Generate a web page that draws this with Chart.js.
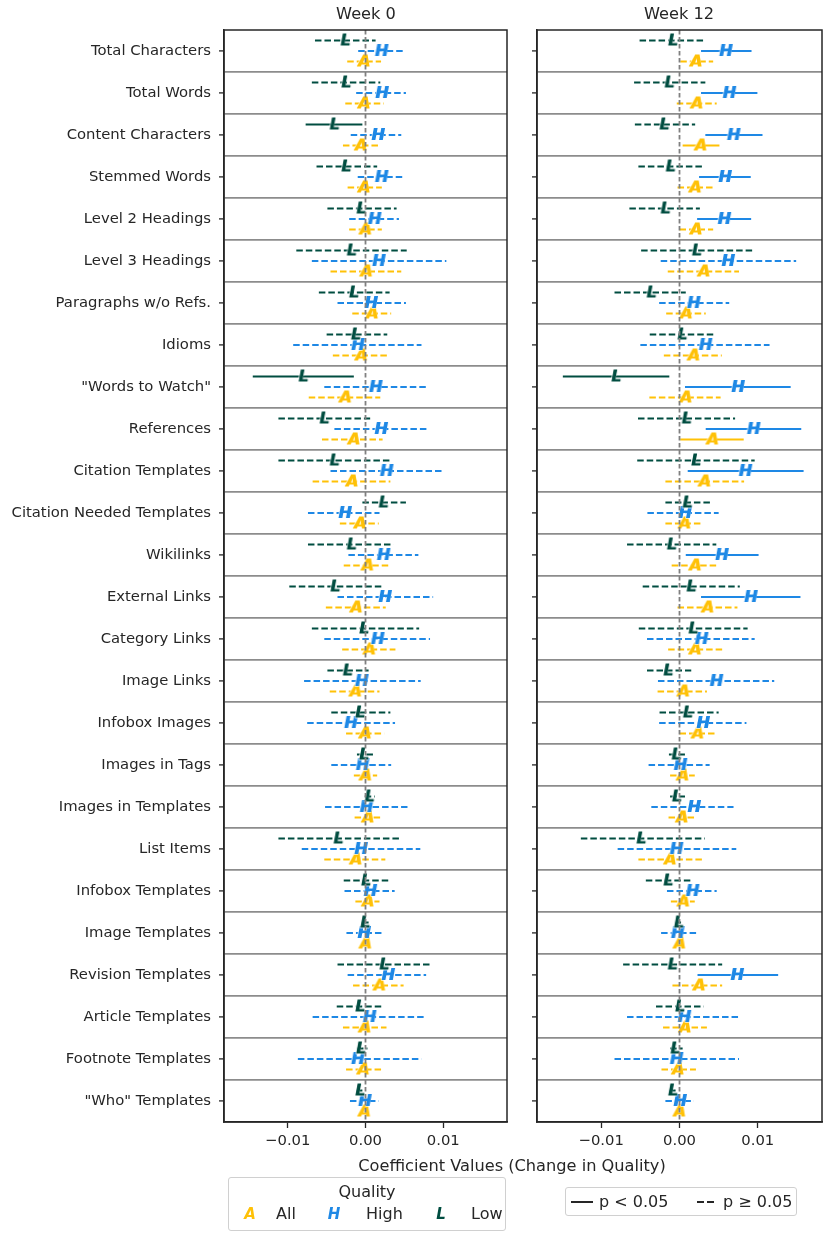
<!DOCTYPE html>
<html>
<head>
<meta charset="utf-8">
<script src="https://cdn.jsdelivr.net/npm/chart.js@4.4.0/dist/chart.umd.min.js"></script>
<style>
  body { margin: 0; background: #fff; width: 831px; height: 1237px; position: relative; overflow: hidden;
         font-family: 'DejaVu Sans', sans-serif; color: #262626; }
  canvas { position: absolute; top: 0; }
  .ttl { position: absolute; top: 4px; font-size: 16.2px; transform: translateX(-50%); white-space: nowrap; }
  .xlabel { position: absolute; top: 1156px; left: 512px; transform: translateX(-50%); font-size: 16.2px; white-space: nowrap; }
  .box { position: absolute; border: 1px solid #d0d0d0; border-radius: 3px; background: #fff; font-size: 16px; }
  .abs { position: absolute; white-space: nowrap; }
  .mk { position: absolute; font-weight: bold; font-style: italic; font-size: 15px; transform: translateX(-50%); }
</style>
</head>
<body>
<canvas id="week0" width="515" height="1160" style="left:0;width:515px;height:1160px"></canvas>
<canvas id="week12" width="316" height="1160" style="left:515px;width:316px;height:1160px"></canvas>
<div class="ttl" style="left:366px">Week 0</div>
<div class="ttl" style="left:679px">Week 12</div>
<div class="xlabel">Coefficient Values (Change in Quality)</div>

<div class="box" style="left:228px;top:1177px;width:276px;height:52px">
  <div class="abs" style="left:0;width:276px;text-align:center;top:4px">Quality</div>
  <span class="mk" style="left:21px;top:27px;color:#FFC107">A</span>
  <span class="abs" style="left:47px;top:26px">All</span>
  <span class="mk" style="left:105px;top:27px;color:#1E88E5">H</span>
  <span class="abs" style="left:137px;top:26px">High</span>
  <span class="mk" style="left:212px;top:27px;color:#004D40">L</span>
  <span class="abs" style="left:242px;top:26px">Low</span>
</div>

<div class="box" style="left:565px;top:1187px;width:230px;height:27px">
  <div class="abs" style="left:5px;top:13px;width:22px;height:2px;background:#262626"></div>
  <span class="abs" style="left:33px;top:4px">p &lt; 0.05</span>
  <div class="abs" style="left:131px;top:13px;width:7px;height:2px;background:#262626"></div>
  <div class="abs" style="left:141px;top:13px;width:7px;height:2px;background:#262626"></div>
  <span class="abs" style="left:157px;top:4px">p ≥ 0.05</span>
</div>

<script>
// Rows (top to bottom)
const features = ['Total Characters', 'Total Words', 'Content Characters', 'Stemmed Words',
  'Level 2 Headings', 'Level 3 Headings', 'Paragraphs w/o Refs.', 'Idioms', '"Words to Watch"',
  'References', 'Citation Templates', 'Citation Needed Templates', 'Wikilinks', 'External Links',
  'Category Links', 'Image Links', 'Infobox Images', 'Images in Tags', 'Images in Templates',
  'List Items', 'Infobox Templates', 'Image Templates', 'Revision Templates', 'Article Templates',
  'Footnote Templates', '"Who" Templates'];

const xTicks = [-0.01, 0, 0.01];
const xTickLabels = ['\u22120.01', '0.00', '0.01'];

// ---- Week 0 ----
const w0AllMean = [-0.0002, -0.0002, -0.0006, -0.0002, 0.0000, 0.0001, 0.00085, -0.00055, -0.0026, -0.0015, -0.00175, -0.0007, 0.00025, -0.0012, 0.0005, -0.0013, -0.00005, 0.0000, 0.0003, -0.00125, 0.0003, 0.0000, 0.0018, -0.0001, -0.0003, -0.00015];
const w0AllLo   = [-0.00235, -0.0026, -0.0029, -0.0023, -0.0021, -0.0045, -0.0017, -0.0042, -0.0073, -0.0056, -0.0068, -0.0033, -0.0028, -0.0051, -0.0030, -0.0046, -0.0025, -0.0015, -0.0014, -0.0053, -0.0013, -0.0005, -0.0016, -0.0029, -0.0025, -0.0006];
const w0AllHi   = [0.0020, 0.00235, 0.00175, 0.0021, 0.0021, 0.0046, 0.0033, 0.0031, 0.0019, 0.0022, 0.0032, 0.0017, 0.0032, 0.0026, 0.00385, 0.0018, 0.0024, 0.0015, 0.0020, 0.00255, 0.0018, 0.0005, 0.0049, 0.0027, 0.0020, 0.0003];
const w0AllSig  = [0, 0, 0, 0, 0, 0, 0, 0, 0, 0, 0, 0, 0, 0, 0, 0, 0, 0, 0, 0, 0, 0, 0, 0, 0, 0];

const w0HighMean = [0.00205, 0.0021, 0.0016, 0.00205, 0.00115, 0.0017, 0.0007, -0.0010, 0.0013, 0.0020, 0.0027, -0.00265, 0.0023, 0.0025, 0.00155, -0.0005, -0.0019, -0.0004, 0.0001, -0.0006, 0.0006, -0.0002, 0.0029, 0.0005, -0.0010, -0.0001];
const w0HighLo   = [-0.00094, -0.0012, -0.0019, -0.0010, -0.0021, -0.0069, -0.0036, -0.0093, -0.0053, -0.0040, -0.0045, -0.0074, -0.0022, -0.0036, -0.0053, -0.0079, -0.0075, -0.0044, -0.0052, -0.0082, -0.0027, -0.00245, -0.0023, -0.0068, -0.0087, -0.0020];
const w0HighHi   = [0.0051, 0.0052, 0.0046, 0.0051, 0.0043, 0.0104, 0.0052, 0.0072, 0.0080, 0.0079, 0.0100, 0.0018, 0.0068, 0.0087, 0.0083, 0.0071, 0.0038, 0.0033, 0.0054, 0.00705, 0.00375, 0.0021, 0.0078, 0.0077, 0.0072, 0.0017];
const w0HighSig  = [0, 0, 0, 0, 0, 0, 0, 0, 0, 0, 0, 0, 0, 0, 0, 0, 0, 0, 0, 0, 0, 0, 0, 0, 0, 0];

const w0LowMean = [-0.0026, -0.0025, -0.0040, -0.0025, -0.00055, -0.0018, -0.0015, -0.00125, -0.0080, -0.0053, -0.0040, 0.0023, -0.0018, -0.0039, -0.0002, -0.0023, -0.0007, -0.0002, 0.0005, -0.0035, 0.00005, -0.00005, 0.0024, -0.0007, -0.0006, -0.0007];
const w0LowLo   = [-0.0065, -0.0069, -0.0077, -0.0063, -0.0049, -0.0089, -0.0060, -0.0050, -0.0145, -0.0112, -0.0112, -0.0004, -0.0074, -0.0098, -0.0069, -0.0049, -0.0044, -0.0011, -0.0001, -0.0112, -0.0028, -0.0004, -0.0036, -0.0037, -0.0011, -0.0010];
const w0LowHi   = [0.0013, 0.0019, -0.0004, 0.0015, 0.0040, 0.0053, 0.0031, 0.0028, -0.0015, 0.0006, 0.0033, 0.0052, 0.0036, 0.0021, 0.0069, 0.0004, 0.0032, 0.0010, 0.0012, 0.0046, 0.0030, 0.0004, 0.0083, 0.00235, 0.00025, -0.0004];
const w0LowSig  = [0, 0, 1, 0, 0, 0, 0, 0, 1, 0, 0, 0, 0, 0, 0, 0, 0, 0, 0, 0, 0, 0, 0, 0, 0, 0];

// ---- Week 12 ----
const w12AllMean = [0.0021, 0.0022, 0.0027, 0.0020, 0.0021, 0.0031, 0.00085, 0.0018, 0.0008, 0.0042, 0.0032, 0.00065, 0.0020, 0.0036, 0.0020, 0.0005, 0.0023, 0.0004, 0.0003, -0.0012, 0.0005, 0.0000, 0.0025, 0.0007, -0.0002, 0.0000];
const w12AllLo   = [0.0001, -0.00035, 0.0004, -0.00025, 0.0000, -0.0015, -0.0017, -0.0020, -0.00385, 0.0001, -0.0018, -0.0018, -0.0010, -0.00025, -0.00145, -0.0028, 0.0000, -0.0012, -0.0014, -0.00525, -0.0011, -0.0004, -0.0009, -0.0021, -0.0023, -0.0004];
const w12AllHi   = [0.0043, 0.00475, 0.0051, 0.0043, 0.0043, 0.0076, 0.00335, 0.0054, 0.00525, 0.0082, 0.00825, 0.00305, 0.0050, 0.0074, 0.0055, 0.0035, 0.00475, 0.00195, 0.0021, 0.0029, 0.00195, 0.0004, 0.00545, 0.0035, 0.0021, 0.0004];
const w12AllSig  = [0, 0, 1, 0, 0, 0, 0, 0, 0, 1, 0, 0, 0, 0, 0, 0, 0, 0, 0, 0, 0, 0, 0, 0, 0, 0];

const w12HighMean = [0.0059, 0.00635, 0.0069, 0.0058, 0.0057, 0.0062, 0.0018, 0.0033, 0.00745, 0.00945, 0.0084, 0.0007, 0.0054, 0.0091, 0.0028, 0.0047, 0.0030, 0.0001, 0.00185, -0.0004, 0.00165, -0.00025, 0.00735, 0.0006, -0.0004, 0.00005];
const w12HighLo   = [0.00275, 0.00275, 0.0033, 0.0025, 0.00225, -0.0024, -0.0026, -0.0050, 0.0007, 0.00335, 0.00105, -0.0041, 0.0008, 0.00275, -0.00415, -0.00275, -0.0026, -0.00395, -0.0036, -0.0079, -0.0016, -0.00235, 0.0023, -0.0067, -0.0083, -0.0018];
const w12HighHi   = [0.0092, 0.00995, 0.0106, 0.0091, 0.00915, 0.0149, 0.00635, 0.0115, 0.0142, 0.01555, 0.01585, 0.0050, 0.0101, 0.01545, 0.0096, 0.0121, 0.00855, 0.00385, 0.0069, 0.00725, 0.00475, 0.0022, 0.0126, 0.00775, 0.0076, 0.00185];
const w12HighSig  = [1, 1, 1, 1, 1, 0, 0, 0, 1, 1, 1, 0, 1, 1, 0, 0, 0, 0, 0, 0, 0, 0, 1, 0, 0, 0];

const w12LowMean = [-0.00085, -0.0013, -0.00195, -0.00115, -0.0018, 0.0022, -0.0036, 0.00035, -0.0081, 0.0009, 0.0021, 0.0010, -0.0010, 0.0015, 0.00175, -0.00145, 0.00105, -0.0004, -0.00035, -0.0049, -0.00145, -0.0001, -0.0009, 0.00005, -0.00055, -0.00085];
const w12LowLo   = [-0.0051, -0.0058, -0.0057, -0.00525, -0.0064, -0.0049, -0.0083, -0.0038, -0.0149, -0.0053, -0.0054, -0.0018, -0.0067, -0.0047, -0.0052, -0.00415, -0.00255, -0.00135, -0.0012, -0.0126, -0.0043, -0.0004, -0.0072, -0.0030, -0.0012, -0.0011];
const w12LowHi   = [0.0033, 0.0033, 0.0020, 0.00305, 0.0026, 0.0095, 0.0008, 0.0045, -0.0013, 0.0071, 0.0096, 0.0039, 0.0047, 0.0077, 0.0087, 0.0015, 0.0050, 0.0007, 0.0007, 0.00325, 0.00145, 0.0002, 0.00545, 0.0031, 0.0004, -0.0005];
const w12LowSig  = [0, 0, 0, 0, 0, 0, 0, 0, 1, 0, 0, 0, 0, 0, 0, 0, 0, 0, 0, 0, 0, 0, 0, 0, 0, 0];

const COLORS = { All: '#FFC107', High: '#1E88E5', Low: '#004D40' };
const OFFSETS = { Low: -0.25, High: 0, All: 0.25 };
const LETTERS = { All: 'A', High: 'H', Low: 'L' };

Chart.defaults.font.family = "'DejaVu Sans', sans-serif";
Chart.defaults.font.size = 14.8;
Chart.defaults.color = '#262626';

// letter marker drawn into a small canvas, used as pointStyle
function letterMarker(ch, color) {
  const c = document.createElement('canvas');
  c.width = 22; c.height = 22;
  const g = c.getContext('2d');
  g.font = 'italic bold 16px "DejaVu Sans"';
  g.textAlign = 'center';
  g.textBaseline = 'middle';
  g.lineJoin = 'round';
  g.lineWidth = 1.5;
  g.strokeStyle = 'rgba(255,255,255,0.85)';
  g.strokeText(ch, 11, 11.5);
  g.fillStyle = color;
  g.fillText(ch, 11, 11.5);
  // a touch heavier, like the reference glyphs
  g.fillText(ch, 11.6, 11.5);
  return c;
}

function errorBarDataset(name, lo, hi, sig) {
  const off = OFFSETS[name];
  const color = COLORS[name];
  const pts = [];
  lo.forEach((l, i) => {
    pts.push({ x: l, y: i + off });
    pts.push({ x: hi[i], y: i + off });
  });
  return {
    type: 'scatter',
    showLine: true,
    data: pts,
    borderColor: color,
    borderWidth: 2,
    pointRadius: 0,
    order: 3,
    segment: {
      borderColor: c => (c.p0DataIndex % 2 ? 'rgba(0,0,0,0)' : color),
      borderDash: c => (sig[Math.floor(c.p0DataIndex / 2)] ? [] : [6.5, 3])
    }
  };
}

function markerDataset(name, mean) {
  const off = OFFSETS[name];
  return {
    type: 'scatter',
    data: mean.map((m, i) => ({ x: m, y: i + off })),
    pointStyle: letterMarker(LETTERS[name], COLORS[name]),
    pointRadius: 7,
    order: 2
  };
}

const zeroLine = () => ({
  type: 'scatter',
  showLine: true,
  data: [{ x: 0, y: -0.5 }, { x: 0, y: features.length - 0.5 }],
  borderColor: '#808080',
  borderWidth: 1.8,
  borderDash: [4.5, 2.5],
  pointRadius: 0,
  order: 0
});

const framePlugin = {
  id: 'frame',
  afterDraw(chart) {
    const { ctx, chartArea: a } = chart;
    ctx.save();
    ctx.strokeStyle = '#262626';
    ctx.lineWidth = 1.5;
    ctx.strokeRect(a.left, a.top, a.right - a.left, a.bottom - a.top);
    ctx.restore();
  }
};

function makePanel(id, series, showLabels, yWidth, padRight) {
  const datasets = [zeroLine()];
  series.forEach(s => datasets.push(errorBarDataset(s.name, s.lo, s.hi, s.sig)));
  series.forEach(s => datasets.push(markerDataset(s.name, s.mean)));

  return new Chart(document.getElementById(id), {
    type: 'scatter',
    data: { datasets },
    plugins: [framePlugin],
    options: {
      responsive: false,
      animation: false,
      layout: { padding: { top: 30, right: padRight, left: 0, bottom: 0 } },
      plugins: { legend: { display: false }, tooltip: { enabled: false } },
      scales: {
        x: {
          type: 'linear',
          min: -0.0182,
          max: 0.0182,
          afterBuildTicks: s => { s.ticks = xTicks.map(v => ({ value: v })); },
          afterFit: s => { s.height = 38; },
          ticks: {
            autoSkip: false,
            padding: 4,
            callback: v => xTickLabels[xTicks.indexOf(v)]
          },
          grid: { drawOnChartArea: false, tickLength: 6, tickColor: '#262626', tickWidth: 1.3 },
          border: { color: '#262626', width: 1.5 }
        },
        y: {
          type: 'linear',
          reverse: true,
          min: -0.5,
          max: features.length - 0.5,
          afterBuildTicks: s => {
            const t = [];
            for (let i = 0; i < features.length; i++) {
              t.push({ value: i });
              if (i < features.length - 1) t.push({ value: i + 0.5 });
            }
            s.ticks = t;
          },
          afterFit: s => { s.width = yWidth; },
          ticks: {
            autoSkip: false,
            padding: 8,
            callback: v => (showLabels && Number.isInteger(v) ? features[v] : '')
          },
          grid: {
            tickLength: 5,
            color: c => (c.tick && !Number.isInteger(c.tick.value) ? '#8c8c8c' : 'rgba(0,0,0,0)'),
            lineWidth: 1.8,
            tickColor: c => (c.tick && Number.isInteger(c.tick.value) ? '#262626' : 'rgba(0,0,0,0)'),
            tickWidth: 1.3
          },
          border: { color: '#262626', width: 1.5 }
        }
      }
    }
  });
}

makePanel('week0', [
  { name: 'Low', mean: w0LowMean, lo: w0LowLo, hi: w0LowHi, sig: w0LowSig },
  { name: 'High', mean: w0HighMean, lo: w0HighLo, hi: w0HighHi, sig: w0HighSig },
  { name: 'All', mean: w0AllMean, lo: w0AllLo, hi: w0AllHi, sig: w0AllSig }
], true, 224, 7);

makePanel('week12', [
  { name: 'Low', mean: w12LowMean, lo: w12LowLo, hi: w12LowHi, sig: w12LowSig },
  { name: 'High', mean: w12HighMean, lo: w12HighLo, hi: w12HighHi, sig: w12HighSig },
  { name: 'All', mean: w12AllMean, lo: w12AllLo, hi: w12AllHi, sig: w12AllSig }
], false, 22, 9);
</script>
</body>
</html>
